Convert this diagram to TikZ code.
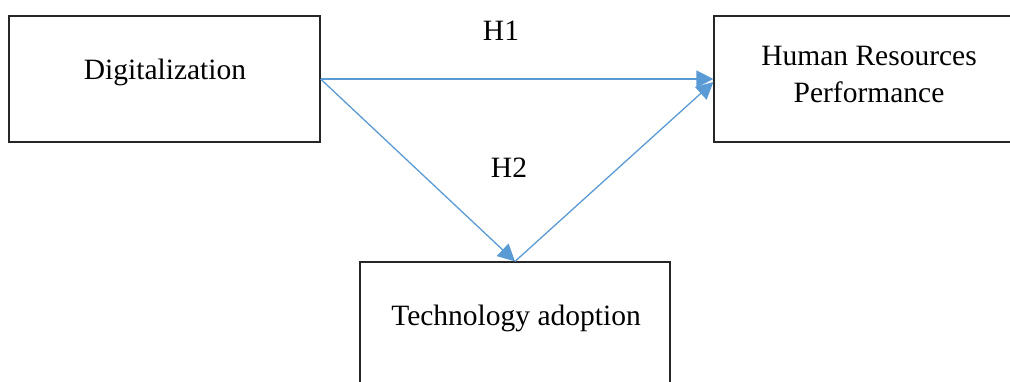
\documentclass[tikz,border=0pt]{standalone}
\usepackage{fontspec}
\setmainfont{Liberation Serif}
\usetikzlibrary{arrows.meta,calc}
\definecolor{arrblue}{HTML}{5B9BD5}
\tikzset{
  box/.style={draw=black!85, line width=1.2pt, rectangle, inner sep=0pt, fill=none},
  lbl/.style={anchor=base, inner sep=0pt, font=\fontsize{29.5}{37}\selectfont},
  arr/.style={draw=arrblue, line width=1.3pt, -{Triangle[length=17pt,width=17pt]}},
}
\begin{document}
\begin{tikzpicture}[x=1pt,y=-1pt]
\clip (0,0) rectangle (1010,381);
\fill[white] (0,0) rectangle (1010,381);
\node[box, minimum width=311pt, minimum height=126pt] (dig) at (164.5,79) {};
\node[box, minimum width=306pt, minimum height=126pt] (hrp) at (867,79) {};
\node[box, minimum width=310pt, minimum height=148pt] (tech) at (515,336) {};
\node[lbl] (tdig) at (165,79) {Digitalization};
\node[lbl] (thrp1) at (869,65) {Human Resources};
\node[lbl] (thrp2) at (869,102) {Performance};
\node[lbl] (ttech) at (516,325) {Technology adoption};
\node[lbl] (h1) at (501,40) {H1};
\node[lbl] (h2) at (509,177) {H2};
\coordinate (hrpin) at ($(hrp.west)+(0,3)$);
\draw[arr] (dig.east) -- (hrp.west);
\draw[arr] (dig.east) -- (tech.north);
\draw[arr] (tech.north) -- (hrpin);
\end{tikzpicture}
\end{document}
